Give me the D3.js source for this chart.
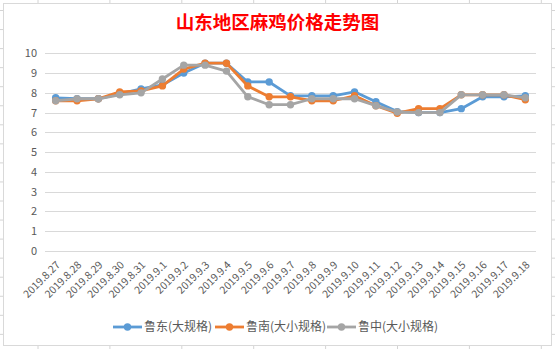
<!DOCTYPE html>
<html>
<head>
<meta charset="utf-8">
<script src="https://cdn.jsdelivr.net/npm/d3@7"></script>
<style>
  html, body { margin: 0; padding: 0; background: #fff; }
  svg { display: block; }
</style>
</head>
<body>
<svg id="chart" width="555" height="349"></svg>
<script>
const categories = ["2019.8.27","2019.8.28","2019.8.29","2019.8.30","2019.8.31","2019.9.1","2019.9.2","2019.9.3","2019.9.4","2019.9.5","2019.9.6","2019.9.7","2019.9.8","2019.9.9","2019.9.10","2019.9.11","2019.9.12","2019.9.13","2019.9.14","2019.9.15","2019.9.16","2019.9.17","2019.9.18"];
const ludong  = [7.75,7.7,7.7,7.95,8.2,8.4,9.0,9.5,9.5,8.55,8.55,7.85,7.85,7.85,8.05,7.55,7.05,7.0,7.0,7.2,7.8,7.8,7.85];
const lunan   = [7.6,7.6,7.7,8.05,8.1,8.35,9.2,9.5,9.5,8.35,7.8,7.8,7.6,7.6,7.85,7.35,6.97,7.2,7.2,7.9,7.9,7.9,7.65];
const luzhong = [7.6,7.7,7.7,7.9,8.0,8.7,9.4,9.4,9.1,7.8,7.4,7.4,7.7,7.7,7.7,7.35,7.03,7.0,7.0,7.9,7.9,7.9,7.75];
const seriesNames = ["鲁东(大规格)","鲁南(大小规格)","鲁中(大小规格)"];
const seriesColors = ["#5B9BD5","#ED7D31","#A5A5A5"];
const yTicks = [0,1,2,3,4,5,6,7,8,9,10];
const title = "山东地区麻鸡价格走势图";

const W = 555, H = 349;
const svg = d3.select("#chart");
const textColor = "#595959";
const font = "'Noto Sans CJK SC', 'Noto Sans', sans-serif";

// spreadsheet background grid
const bg = svg.append("g");
d3.range(38, W, 71.9).forEach(x => bg.append("line").attr("x1", x).attr("x2", x).attr("y1", 0).attr("y2", H).attr("stroke", "#d4d4d4"));
d3.range(10.5, H, 19.05).forEach(y => bg.append("line").attr("x1", 0).attr("x2", W).attr("y1", y).attr("y2", y).attr("stroke", "#d4d4d4"));

// chart area
svg.append("rect").attr("x", 3.5).attr("y", 3.5).attr("width", 548).attr("height", 342)
  .attr("fill", "#fff").attr("stroke", "#d9d9d9");

const plot = {left: 45, right: 536, top: 53.3, bottom: 251};
const x = d3.scaleBand().domain(categories).range([plot.left, plot.right]);
const y = d3.scaleLinear().domain([0, 10]).range([plot.bottom, plot.top]);

// gridlines
svg.append("g").selectAll("line").data(yTicks).join("line")
  .attr("x1", plot.left).attr("x2", plot.right)
  .attr("y1", d => Math.round(y(d)) + 0.5).attr("y2", d => Math.round(y(d)) + 0.5)
  .attr("stroke", "#d9d9d9").attr("stroke-width", 1);

// y axis labels
const yAxis = d3.axisLeft(y).tickValues(yTicks).tickSize(0).tickPadding(0);
const gy = svg.append("g").attr("transform", `translate(37,0)`).call(yAxis);
gy.select(".domain").remove();
gy.selectAll("text").attr("fill", textColor).style("font-family", font).style("font-size", "11px");

// x axis labels
const xAxis = d3.axisBottom(x).tickSize(0).tickPadding(0);
const gx = svg.append("g").attr("transform", `translate(0,${plot.bottom})`).call(xAxis);
gx.select(".domain").remove();
gx.selectAll("text")
  .attr("fill", textColor).style("font-family", font).style("font-size", "10.5px")
  .attr("text-anchor", "end").attr("dy", "0.35em").attr("y", 0)
  .attr("transform", "translate(2.5,12) rotate(-45)");

// lines
const allSeries = [ludong, lunan, luzhong];
const line = d3.line().x((d, i) => x(categories[i]) + x.bandwidth() / 2).y(d => y(d));
allSeries.forEach((s, k) => {
  const g = svg.append("g");
  g.append("path").datum(s).attr("d", line).attr("fill", "none")
    .attr("stroke", seriesColors[k]).attr("stroke-width", 2.8).attr("stroke-linejoin", "round").attr("stroke-linecap", "round");
  g.selectAll("circle").data(s).join("circle")
    .attr("cx", (d, i) => x(categories[i]) + x.bandwidth() / 2)
    .attr("cy", d => y(d)).attr("r", 3.7).attr("fill", seriesColors[k]);
});

// title
svg.append("text").attr("x", 277.5).attr("y", 29).attr("text-anchor", "middle")
  .attr("fill", "#FF0000").style("font-family", font).style("font-size", "18.5px").style("font-weight", "bold")
  .text(title);

// legend
const legendX = [113, 215, 327];
const lg = svg.append("g");
seriesNames.forEach((n, k) => {
  const gx0 = legendX[k];
  lg.append("line").attr("x1", gx0).attr("x2", gx0 + 29).attr("y1", 327).attr("y2", 327)
    .attr("stroke", seriesColors[k]).attr("stroke-width", 2.8);
  lg.append("circle").attr("cx", gx0 + 14.5).attr("cy", 327).attr("r", 3.7).attr("fill", seriesColors[k]);
  lg.append("text").attr("x", gx0 + 31).attr("y", 327).attr("dy", "0.35em")
    .attr("fill", textColor).style("font-family", font).style("font-size", "12px").text(n);
});
</script>
</body>
</html>
